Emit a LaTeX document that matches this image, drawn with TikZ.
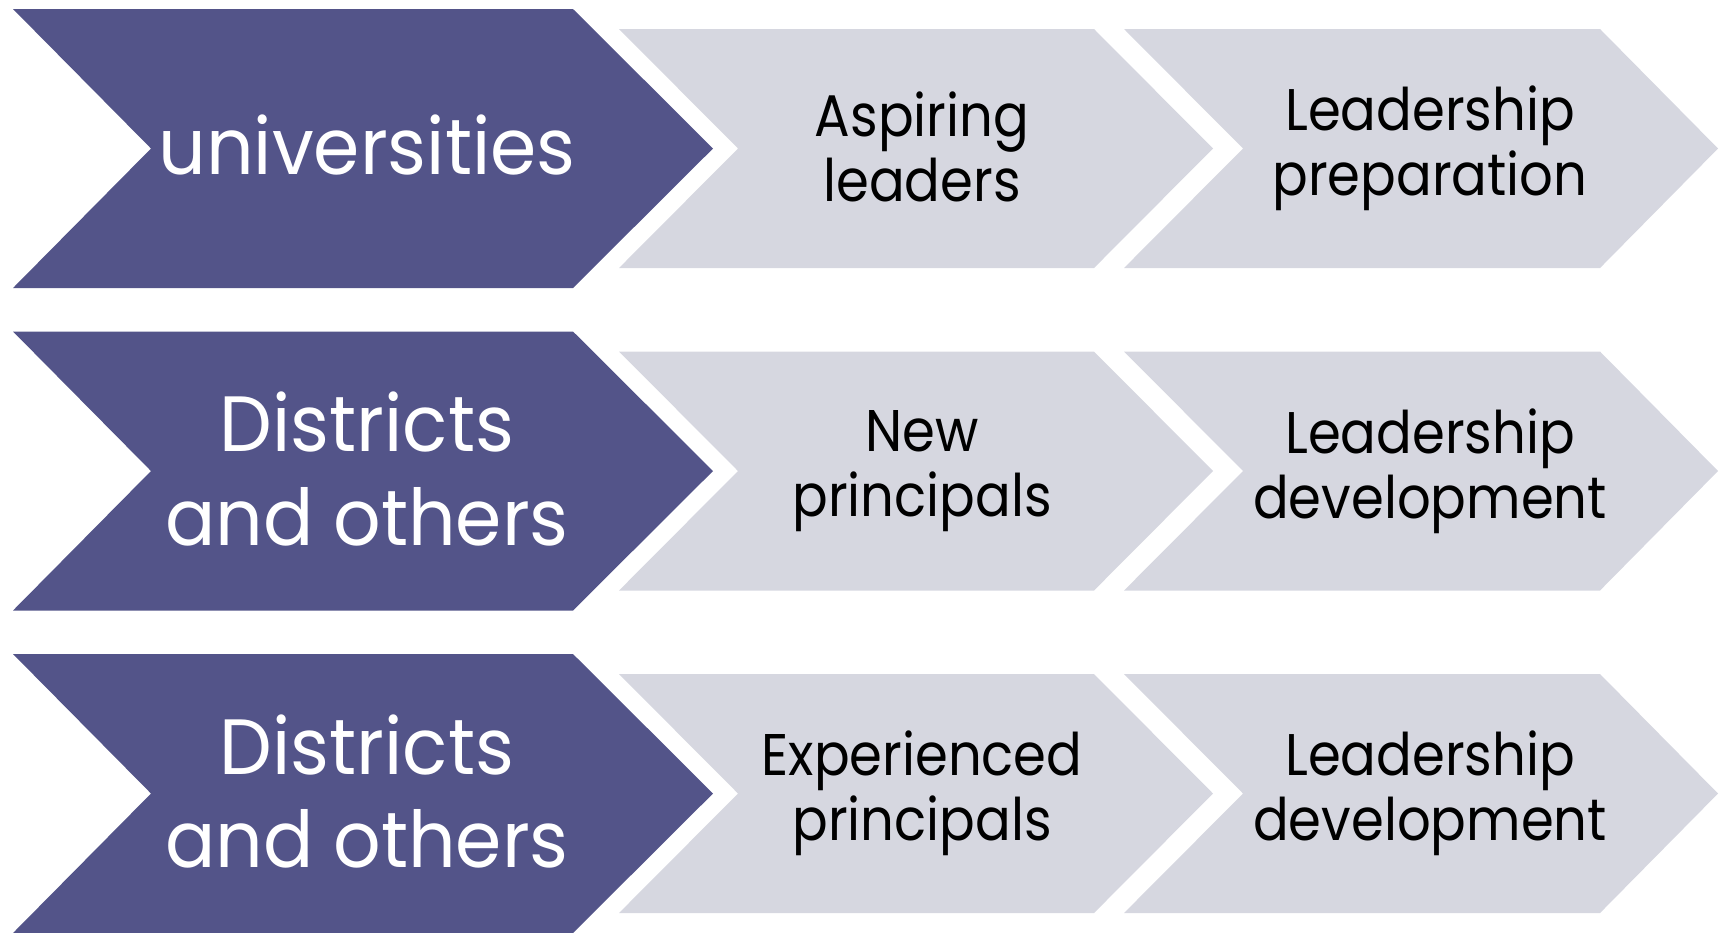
\documentclass[tikz,border=0pt]{standalone}
\usepackage{fontspec}
\setmainfont{Poppins}[FakeStretch=0.9]
\newfontfamily\widefont{Poppins}[FakeStretch=0.95]
\usepackage{tikz}

\definecolor{sponsor}{RGB}{83,84,137}
\definecolor{stage}{RGB}{214,215,224}

\tikzset{
  who/.style={text=white, align=center, font=\widefont\fontsize{22.3}{26.7}\selectfont},
  what/.style={text=black, align=center, font=\fontsize{16.7}{18.5}\selectfont},
}

\begin{document}
\begin{tikzpicture}[x=.01cm, y=-.01cm]
\useasboundingbox (0,0) rectangle (1725,932);

% row 1
\begin{scope}[shift={(0,148.5)}]
\fill[sponsor]
  (13,-139.5) -- (573,-139.5) -- (713,0) -- (573,139.5)
  -- (13,139.5) -- (151,0) -- cycle;
\fill[stage]
  (619,-119.5) -- (1094,-119.5) -- (1213,0) -- (1094,119.5)
  -- (619,119.5) -- (738,0) -- cycle;
\fill[stage]
  (1124,-119.5) -- (1600,-119.5) -- (1718,0) -- (1600,119.5)
  -- (1124,119.5) -- (1243,0) -- cycle;
\draw
  (367,-4) node[who] (univ) {universities};
\draw
  (922,-2) node[what] (aspiring) {Aspiring\\leaders};
\draw
  (1430,0) node[what] (prep) {Leadership\\preparation};
\end{scope}

% row 2
\begin{scope}[shift={(0,471)}]
\fill[sponsor]
  (13,-139.5) -- (573,-139.5) -- (713,0) -- (573,139.5)
  -- (13,139.5) -- (151,0) -- cycle;
\fill[stage]
  (619,-119.5) -- (1094,-119.5) -- (1213,0) -- (1094,119.5)
  -- (619,119.5) -- (738,0) -- cycle;
\fill[stage]
  (1124,-119.5) -- (1600,-119.5) -- (1718,0) -- (1600,119.5)
  -- (1124,119.5) -- (1243,0) -- cycle;
\draw
  (367,-2) node[who] (distnew) {Districts\\and others};
\draw
  (922,0) node[what] (newprin) {New\\principals};
\draw
  (1430,0) node[what] (devnew) {Leadership\\development};
\end{scope}

% row 3
\begin{scope}[shift={(0,793.5)}]
\fill[sponsor]
  (13,-139.5) -- (573,-139.5) -- (713,0) -- (573,139.5)
  -- (13,139.5) -- (151,0) -- cycle;
\fill[stage]
  (619,-119.5) -- (1094,-119.5) -- (1213,0) -- (1094,119.5)
  -- (619,119.5) -- (738,0) -- cycle;
\fill[stage]
  (1124,-119.5) -- (1600,-119.5) -- (1718,0) -- (1600,119.5)
  -- (1124,119.5) -- (1243,0) -- cycle;
\draw
  (367,-2) node[who] (distexp) {Districts\\and others};
\draw
  (922,0) node[what] (expprin) {Experienced\\principals};
\draw
  (1430,0) node[what] (devexp) {Leadership\\development};
\end{scope}
\end{tikzpicture}
\end{document}
